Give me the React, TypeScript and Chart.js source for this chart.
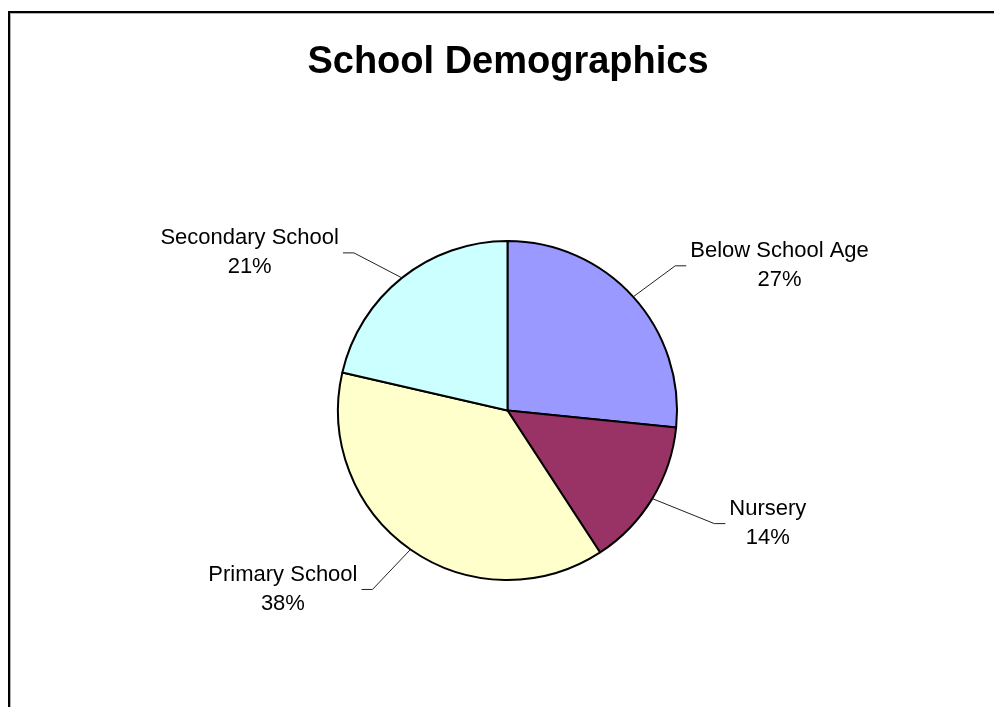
import React, { useEffect, useRef } from "react";
import { Chart, registerables } from "chart.js";

Chart.register(...registerables);

const chartTitle = "School Demographics";
const categories = ["Below School Age", "Nursery", "Primary School", "Secondary School"];
const shares = [26.6, 14.2, 37.8, 21.4];
const sliceColors = ["#9999FF", "#993366", "#FFFFCC", "#CCFFFF"];

// layout: leader-line elbow offsets from each slice's outer mid point
const leaderElbows: [number, number][] = [
  [42, -31],
  [62, 25],
  [-38, 40],
  [-48, -25],
];

const W = 994;
const H = 707;
const FONT = "'Liberation Sans', Arial, Helvetica, sans-serif";

const decorPlugin = {
  id: "decor",
  beforeDraw(chart: any) {
    const ctx = chart.ctx;
    ctx.save();
    ctx.fillStyle = "#ffffff";
    ctx.fillRect(0, 0, W, H);
    // frame
    ctx.fillStyle = "#000000";
    ctx.fillRect(8, 11, 2, H);
    ctx.fillRect(8, 11, W, 2);
    ctx.fillStyle = "#b0b0b0";
    ctx.fillRect(10, 13, 1, H);
    ctx.fillRect(10, 13, W, 1);
    // title
    ctx.fillStyle = "#000000";
    ctx.font = `bold 38px ${FONT}`;
    ctx.textAlign = "center";
    ctx.textBaseline = "alphabetic";
    ctx.fillText(chartTitle, 508, 73);
    ctx.restore();
  },
  afterDatasetsDraw(chart: any) {
    const ctx = chart.ctx;
    const meta = chart.getDatasetMeta(0);
    const data = chart.data.datasets[0].data as number[];
    const total = data.reduce((a, b) => a + b, 0);
    ctx.save();
    meta.data.forEach((arc: any, i: number) => {
      const { x, y, startAngle, endAngle, outerRadius } = arc.getProps(
        ["x", "y", "startAngle", "endAngle", "outerRadius"],
        true
      );
      const mid = (startAngle + endAngle) / 2;
      const ex = x + Math.cos(mid) * outerRadius;
      const ey = y + Math.sin(mid) * outerRadius;
      const [dx, dy] = leaderElbows[i];
      const bx = ex + dx;
      const by = ey + dy;
      const right = dx > 0;
      const hx = bx + (right ? 11 : -11);
      ctx.strokeStyle = "#222222";
      ctx.lineWidth = 1;
      ctx.beginPath();
      ctx.moveTo(ex, ey);
      ctx.lineTo(bx, by);
      ctx.lineTo(hx, by);
      ctx.stroke();

      const lines = [categories[i], Math.round((data[i] / total) * 100) + "%"];
      ctx.font = `22px ${FONT}`;
      ctx.fillStyle = "#000000";
      ctx.textAlign = "center";
      ctx.textBaseline = "alphabetic";
      const w = Math.max(...lines.map((l) => ctx.measureText(l).width));
      const cx = right ? hx + 4 + w / 2 : hx - 4 - w / 2;
      ctx.fillText(lines[0], cx, by - 8.5);
      ctx.fillText(lines[1], cx, by + 20.5);
    });
    ctx.restore();
  },
};

export default function App() {
  const ref = useRef<HTMLCanvasElement | null>(null);
  useEffect(() => {
    if (!ref.current) return;
    const chart = new Chart(ref.current, {
      type: "pie",
      data: {
        labels: categories,
        datasets: [
          {
            data: shares,
            backgroundColor: sliceColors,
            borderColor: "#000000",
            borderWidth: 2,
          },
        ],
      },
      options: {
        responsive: false,
        animation: false,
        devicePixelRatio: 1,
        layout: { padding: { left: 337, right: 316, top: 240, bottom: 126 } },
        plugins: {
          legend: { display: false },
          tooltip: { enabled: false },
          title: { display: false },
        },
      },
      plugins: [decorPlugin],
    });
    return () => chart.destroy();
  }, []);
  return (
    <div style={{ position: "absolute", left: 0, top: 0, width: W, height: H }}>
      <canvas ref={ref} width={W} height={H} style={{ display: "block", width: W, height: H }} />
    </div>
  );
}
